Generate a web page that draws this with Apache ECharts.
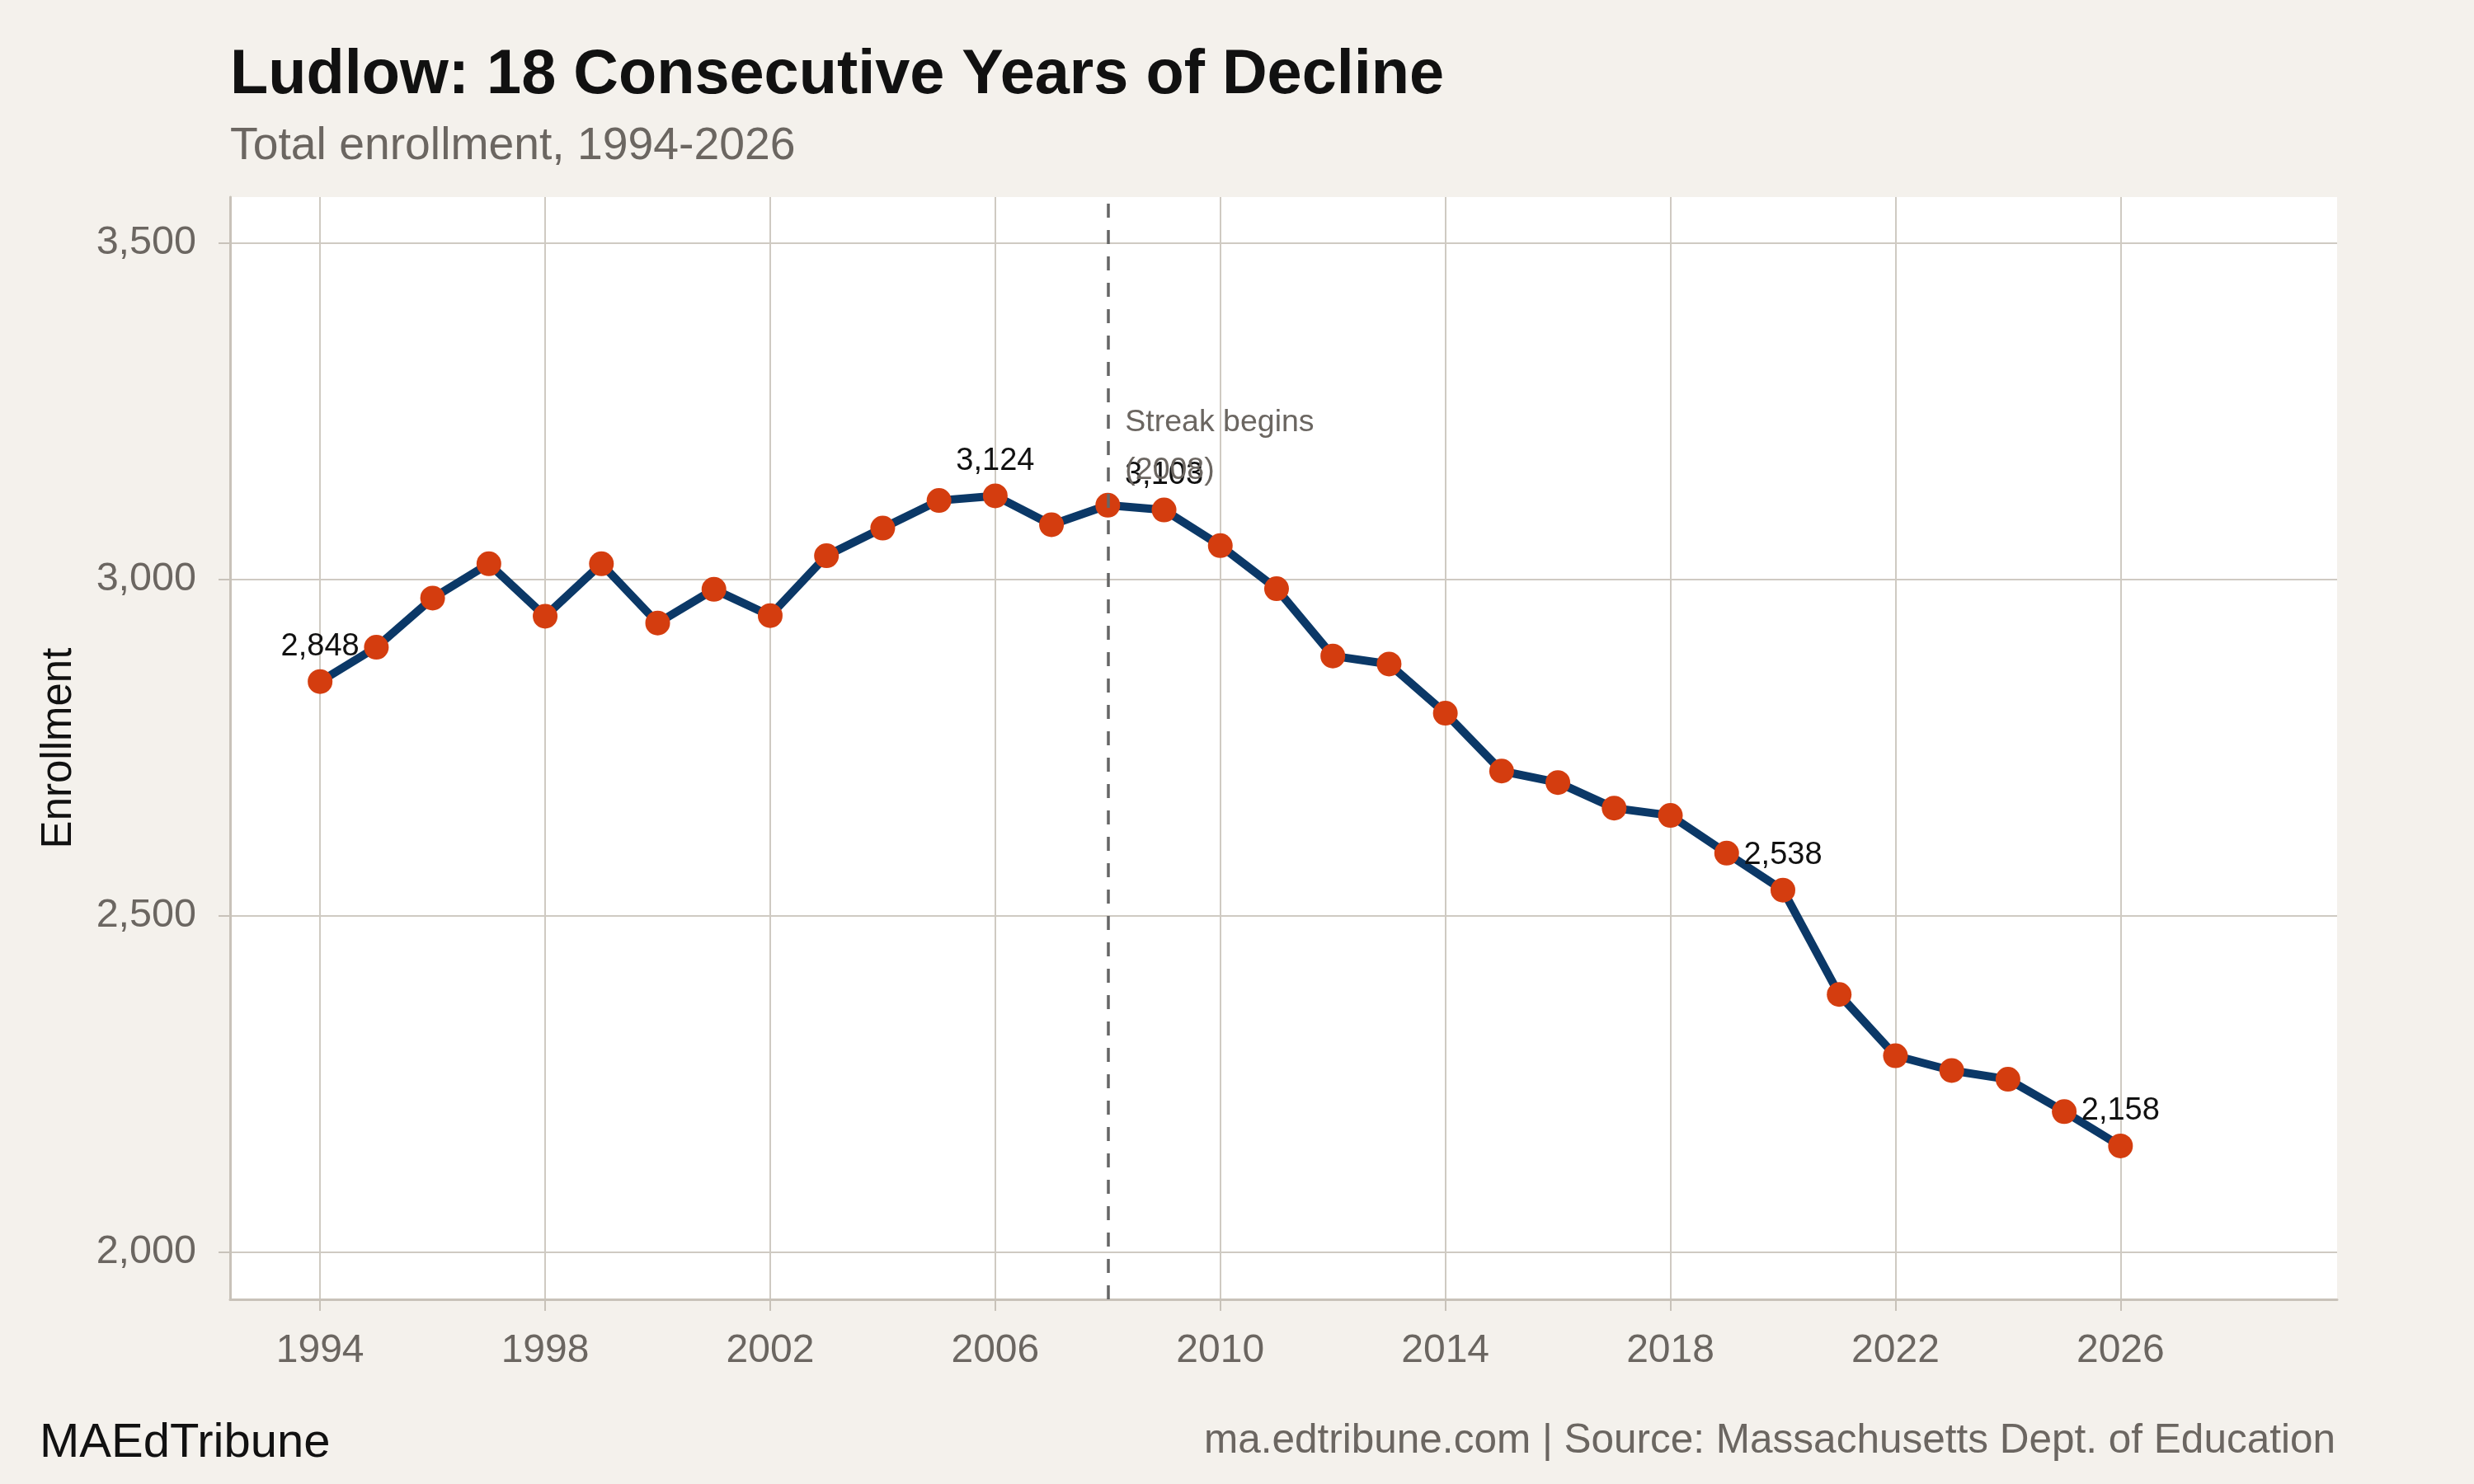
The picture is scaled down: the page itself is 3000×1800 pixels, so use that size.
<!DOCTYPE html>
<html>
<head>
<meta charset="utf-8">
<script src="https://cdn.jsdelivr.net/npm/echarts@6/dist/echarts.min.js"></script>
<style>
html,body{margin:0;padding:0;background:#f4f1ec;}
#chart{width:3000px;height:1800px;}
</style>
</head>
<body>
<div id="chart"></div>
<script>
const years = [1994,1995,1996,1997,1998,1999,2000,2001,2002,2003,2004,2005,2006,2007,2008,2009,2010,
  2011,2012,2013,2014,2015,2016,2017,2018,2019,2020,2021,2022,2023,2024,2025,2026];
const enrollment = [2848,2899,2972,3023,2945,3023,2935,2985,2946,3035,3076,3117,3124,3081,3110,3103,3050,
  2986,2886,2874,2801,2715,2698,2660,2649,2593,2538,2383,2292,2270,2257,2209,2158];
const labeledYears = [1994,2006,2009,2020,2026];
const xTicks = [1994,1998,2002,2006,2010,2014,2018,2022,2026];
const yTicks = [2000,2500,3000,3500];
const streakYear = 2008;
const streakText = 'Streak begins\n(2008)';
const annotationY = 3197;

const FONT = '"Liberation Sans", Helvetica, Arial, sans-serif';
const GRID_C = '#cfcac2';
const AXIS_C = '#c8c2b9';
const GRAY_T = '#6b6661';

const chart = echarts.init(document.getElementById('chart'), null, {renderer:'canvas'});
const seriesData = years.map((y,i)=>({
  value:[y, enrollment[i]],
  label:{show: labeledYears.indexOf(y) >= 0}
}));

chart.setOption({
  animation:false,
  backgroundColor:'#f4f1ec',
  textStyle:{fontFamily:FONT},
  title:[
    {text:'Ludlow: 18 Consecutive Years of Decline', left:279, top:54, padding:0,
     textStyle:{fontSize:75.7, fontWeight:'bold', color:'#111111', fontFamily:FONT}},
    {text:'Total enrollment, 1994-2026', left:279, top:150, padding:0,
     textStyle:{fontSize:55.3, fontWeight:'normal', color:GRAY_T, fontFamily:FONT}},
    {text:'MAEdTribune', left:48, top:1722, padding:0,
     textStyle:{fontSize:58, fontWeight:'normal', color:'#111111', fontFamily:FONT}},
    {text:'ma.edtribune.com | Source: Massachusetts Dept. of Education', right:168, top:1723, padding:0,
     textStyle:{fontSize:49.5, fontWeight:'normal', color:GRAY_T, fontFamily:FONT}}
  ],
  grid:{left:279, right:166, top:239, bottom:224, show:true, backgroundColor:'#ffffff', borderWidth:0, containLabel:false},
  xAxis:{
    type:'value', min:1992.40, max:2029.85,
    axisLine:{show:true, lineStyle:{color:AXIS_C, width:3}},
    axisTick:{show:true, length:14, customValues:xTicks, lineStyle:{color:AXIS_C, width:2}},
    axisLabel:{show:true, customValues:xTicks, margin:39, fontSize:48, color:GRAY_T, fontFamily:FONT,
      formatter:v=>String(v)},
    splitLine:{show:true, lineStyle:{color:GRID_C, width:2}}
  },
  yAxis:{
    type:'value', min:1930, max:3568,
    name:'Enrollment', nameLocation:'middle', nameGap:182, nameRotate:90,
    nameTextStyle:{fontSize:51, color:'#111111', fontFamily:FONT},
    axisLine:{show:true, lineStyle:{color:AXIS_C, width:3}},
    axisTick:{show:true, length:14, customValues:yTicks, lineStyle:{color:AXIS_C, width:2}},
    axisLabel:{show:true, customValues:yTicks, margin:41, fontSize:48.5, color:GRAY_T, fontFamily:FONT,
      formatter:v=>v.toLocaleString('en-US')},
    splitLine:{show:true, lineStyle:{color:GRID_C, width:2}}
  },
  series:[
    {
      type:'line', data:[], z:1, silent:true,
      markLine:{
        silent:true, symbol:'none', animation:false,
        label:{show:false},
        lineStyle:{color:'#666666', width:3.5, type:[17,15]},
        data:[{xAxis:streakYear}]
      }
    },
    {
      type:'line', z:3,
      data:seriesData,
      symbol:'circle', symbolSize:30,
      itemStyle:{color:'#d43d0f', borderWidth:0},
      lineStyle:{color:'#0b3867', width:10},
      label:{show:false, position:'top', distance:8, fontSize:38, color:'#111111', fontFamily:FONT,
        formatter:p=>p.value[1].toLocaleString('en-US')},
      markPoint:{
        silent:true, symbol:'circle', symbolSize:0,
        data:[{coord:[streakYear, annotationY]}],
        label:{show:true, position:'right', distance:21, formatter:streakText, fontSize:37.5,
          lineHeight:58, color:'#6b6661', fontFamily:FONT, align:'left'}
      }
    }
  ]
});
</script>
</body>
</html>
